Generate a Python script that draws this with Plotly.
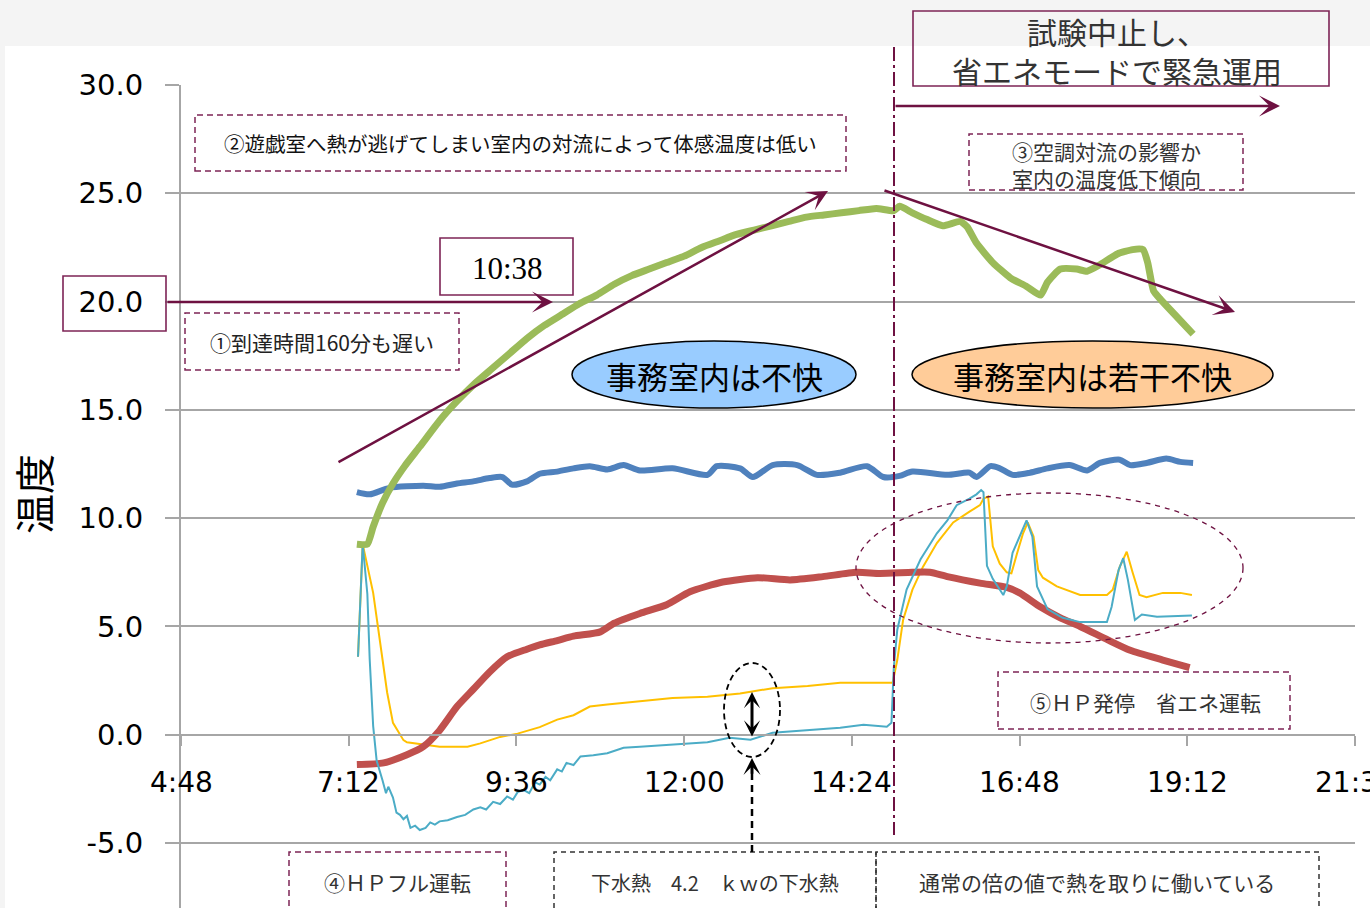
import pandas as pd
import plotly.graph_objects as go

# ---------------------------------------------------------------- data
time_tick_labels = ["4:48", "7:12", "9:36", "12:00", "14:24", "16:48", "19:12", "21:36"]
temp_tick_values = [-5, 0, 5, 10, 15, 20, 25, 30]

room_time = ["7:19", "7:28", "7:33", "7:41", "7:50", "8:00", "8:13", "8:30", "8:45", "9:00",
             "9:15", "9:30", "9:45", "10:00", "10:15", "10:30", "10:45", "11:00", "11:15", "11:30",
             "11:45", "12:00", "12:15", "12:30", "12:45", "13:00", "13:15", "13:30", "13:45", "14:00",
             "14:15", "14:30", "14:45", "15:00", "15:05", "15:16", "15:28", "15:42", "15:57", "16:03",
             "16:11", "16:25", "16:40", "16:54", "17:06", "17:12", "17:23", "17:37", "17:46", "17:57",
             "18:12", "18:25", "18:34", "18:38", "18:43", "18:49", "19:03", "19:17"]
room_temp = [8.8, 8.8, 9.6, 10.7, 11.6, 12.4, 13.3, 14.5, 15.4, 16.2,
             16.9, 17.6, 18.3, 18.9, 19.4, 19.9, 20.3, 20.8, 21.2, 21.5,
             21.8, 22.1, 22.5, 22.8, 23.1, 23.3, 23.5, 23.7, 23.9, 24.0,
             24.1, 24.2, 24.3, 24.2, 24.4, 24.1, 23.8, 23.5, 23.7, 23.45,
             22.7, 21.8, 21.1, 20.7, 20.3, 20.9, 21.5, 21.5, 21.4, 21.7,
             22.2, 22.4, 22.4, 21.8, 20.5, 20.1, 19.3, 18.5]

sewage_time = ["7:19", "7:30", "7:47", "8:16", "8:30", "8:45", "8:59", "9:13", "9:24", "9:32",
               "9:45", "9:56", "10:11", "10:25", "10:39", "10:54", "11:08", "11:22", "11:50", "12:20",
               "12:28", "12:48", "12:59", "13:16", "13:37", "13:54", "14:14", "14:37", "14:51", "15:05",
               "15:16", "15:46", "16:05", "16:11", "16:23", "16:31", "16:42", "16:57", "17:12", "17:31",
               "17:46", "17:57", "18:14", "18:23", "18:37", "18:54", "19:06", "19:17"]
sewage_temp = [11.2, 11.1, 11.4, 11.5, 11.45, 11.6, 11.7, 11.85, 11.9, 11.55,
               11.7, 12.05, 12.15, 12.3, 12.4, 12.25, 12.45, 12.2, 12.3, 12.0,
               12.4, 12.3, 11.9, 12.45, 12.45, 12.0, 12.1, 12.4, 11.9, 11.95,
               12.15, 12.0, 12.1, 11.9, 12.4, 12.3, 12.0, 12.1, 12.3, 12.45,
               12.2, 12.55, 12.7, 12.45, 12.55, 12.75, 12.6, 12.55]

outdoor_time = ["7:19", "7:42", "8:02", "8:16", "8:30", "8:45", "8:59", "9:13", "9:28", "9:45",
                "9:56", "10:11", "10:25", "10:48", "11:00", "11:22", "11:45", "12:05", "12:33", "13:03",
                "13:31", "13:59", "14:28", "14:48", "15:16", "15:31", "15:46", "16:14", "16:37", "16:48",
                "17:06", "17:23", "17:40", "18:03", "18:23", "18:51", "19:14"]
outdoor_temp = [-1.38, -1.3, -0.92, -0.55, 0.2, 1.3, 2.1, 2.9, 3.6, 3.95,
                4.15, 4.35, 4.55, 4.75, 5.15, 5.6, 6.0, 6.6, 7.05, 7.25,
                7.15, 7.3, 7.5, 7.45, 7.5, 7.5, 7.3, 7.0, 6.8, 6.55,
                5.9, 5.4, 5.0, 4.4, 3.9, 3.45, 3.1]

brine_in_time = ["7:20", "7:24", "7:33", "7:39", "7:45", "7:50", "7:59", "8:02", "8:16", "8:30",
                 "8:54", "9:05", "9:22", "9:37", "9:56", "10:11", "10:25", "10:39", "10:54", "11:22",
                 "11:50", "12:20", "12:48", "13:16", "13:46", "14:14", "14:59", "15:03", "15:08", "15:16",
                 "15:25", "15:37", "15:51", "16:05", "16:14", "16:17", "16:21", "16:25", "16:31", "16:37",
                 "16:41", "16:46", "16:51", "16:55", "17:00", "17:04", "17:08", "17:20", "17:40", "18:03",
                 "18:08", "18:14", "18:20", "18:25", "18:31", "18:37", "18:51", "19:06", "19:16"]
brine_in_temp = [3.6, 8.8, 6.55, 4.25, 1.95, 0.55, -0.25, -0.35, -0.45, -0.55,
                 -0.55, -0.4, -0.1, 0.05, 0.35, 0.7, 0.9, 1.3, 1.4, 1.55,
                 1.7, 1.75, 1.9, 2.15, 2.25, 2.4, 2.4, 3.45, 5.3, 6.7,
                 7.75, 8.85, 9.8, 10.3, 10.6, 10.9, 11.0, 8.7, 7.9, 7.5,
                 7.45, 8.4, 9.3, 9.8, 9.15, 7.6, 7.25, 6.85, 6.45, 6.45,
                 6.7, 7.75, 8.45, 7.5, 6.45, 6.35, 6.55, 6.55, 6.45]

brine_out_time = ["7:20", "7:24", "7:28", "7:30", "7:33", "7:36", "7:41", "7:44", "7:46", "7:50",
                  "7:53", "7:56", "7:59", "8:02", "8:05", "8:09", "8:13", "8:18", "8:22", "8:26",
                  "8:30", "8:37", "8:45", "8:52", "8:59", "9:05", "9:10", "9:16", "9:22", "9:28",
                  "9:33", "9:37", "9:42", "9:47", "9:52", "9:56", "10:01", "10:05", "10:11", "10:15",
                  "10:19", "10:25", "10:31", "10:42", "10:54", "11:08", "11:22", "11:36", "11:50", "12:05",
                  "12:20", "12:39", "12:57", "13:16", "13:31", "13:46", "14:14", "14:34", "14:54", "14:58",
                  "15:00", "15:03", "15:11", "15:23", "15:37", "15:46", "15:54", "16:05", "16:11", "16:15",
                  "16:17", "16:20", "16:25", "16:34", "16:37", "16:42", "16:50", "16:54", "16:59", "17:03",
                  "17:12", "17:25", "17:40", "18:03", "18:07", "18:13", "18:17", "18:21", "18:27", "18:33",
                  "18:46", "19:06", "19:16"]
brine_out_temp = [3.6, 8.8, 6.5, 3.5, 0.4, -1.2, -2.1, -2.7, -2.4, -2.9,
                  -3.6, -3.7, -3.9, -3.75, -4.3, -4.2, -4.4, -4.3, -4.05, -4.15,
                  -4.0, -3.95, -3.8, -3.7, -3.45, -3.35, -3.45, -3.1, -3.2, -2.85,
                  -3.0, -2.65, -2.55, -2.7, -2.2, -2.3, -1.95, -2.1, -1.6, -1.7,
                  -1.3, -1.4, -1.0, -0.95, -0.85, -0.6, -0.55, -0.5, -0.45, -0.4,
                  -0.35, -0.14, -0.23, 0.09, 0.15, 0.23, 0.32, 0.46, 0.37, 0.55,
                  3.1, 4.85, 6.7, 8.1, 9.3, 9.9, 10.6, 10.9, 11.1, 11.3,
                  11.2, 7.8, 7.2, 6.45, 6.85, 8.4, 9.45, 9.9, 9.15, 6.85,
                  5.8, 5.4, 5.2, 5.2, 5.9, 7.6, 8.15, 7.15, 5.3, 5.55,
                  5.45, 5.5, 5.5]


def stamp(hm):
    h, m = hm.split(":")
    return pd.Timestamp(f"2000-01-01 {int(h):02d}:{int(m):02d}:00")


# ---------------------------------------------------------------- page geometry
W, H = 1370, 908
ML, MR, MT, MB = 181, 15, 85, 0
Y_MIN, Y_MAX = -8, 30


def fx(px):
    return (px - ML) / (W - ML - MR)


def fy(py):
    return (H - MB - py) / (H - MT - MB)


JP = "Noto Sans CJK JP"
NUM = "DejaVu Sans"
GRID = "#A6A6A6"
MAROON = "#6E1141"
BOX = "#7D2456"

fig = go.Figure()

# (times, values, colour, width, smoothing)
series = [
    (brine_in_time, brine_in_temp, "#FFC000", 2, None),
    (outdoor_time, outdoor_temp, "#C0504D", 7, 0.6),
    (brine_out_time, brine_out_temp, "#4BACC6", 2, None),
    (sewage_time, sewage_temp, "#4F81BD", 6, 0.7),
    (room_time, room_temp, "#9BBB59", 7, 0.5),
]
for t, v, color, width, smooth in series:
    line = dict(color=color, width=width)
    if smooth is not None:
        line.update(shape="spline", smoothing=smooth)
    fig.add_trace(go.Scatter(
        x=[stamp(s) for s in t], y=v, mode="lines", line=line,
        showlegend=False, hoverinfo="skip",
    ))

tick_times = [stamp(s) for s in time_tick_labels]

# ---------------------------------------------------------------- shapes
shapes = []


def rect(x0, y0, x1, y1, color, dash="solid", width=1.5, fill="rgba(0,0,0,0)", layer="above"):
    shapes.append(dict(type="rect", xref="paper", yref="paper",
                       x0=fx(x0), x1=fx(x1), y0=fy(y1), y1=fy(y0),
                       line=dict(color=color, width=width, dash=dash),
                       fillcolor=fill, layer=layer))


def oval(x0, y0, x1, y1, color, dash="solid", width=1.5, fill="rgba(0,0,0,0)"):
    shapes.append(dict(type="circle", xref="paper", yref="paper",
                       x0=fx(x0), x1=fx(x1), y0=fy(y1), y1=fy(y0),
                       line=dict(color=color, width=width, dash=dash),
                       fillcolor=fill, layer="above"))


def seg(x0, y0, x1, y1, color, dash="solid", width=2):
    shapes.append(dict(type="line", xref="paper", yref="paper",
                       x0=fx(x0), x1=fx(x1), y0=fy(y0), y1=fy(y1),
                       line=dict(color=color, width=width, dash=dash), layer="above"))


# light textured band of the page header and left edge
rect(0, 0, W, 46, "rgba(0,0,0,0)", width=0, fill="#F4F4F4", layer="below")
rect(0, 0, 5, H, "rgba(0,0,0,0)", width=0, fill="#F4F4F4", layer="below")

DASH_BOX = "6px,4px"
rect(195, 115, 846, 171, BOX, DASH_BOX)            # (2)
rect(185, 313, 459, 370, BOX, DASH_BOX)            # (1)
rect(969, 134, 1243, 190, BOX, DASH_BOX)           # (3)
rect(998, 672, 1290, 729, BOX, DASH_BOX)           # (5)
rect(289, 852, 506, 940, BOX, DASH_BOX)            # (4)
rect(554, 852, 876, 940, "#333333", "5px,4px")
rect(876, 852, 1319, 940, "#333333", "5px,4px")
rect(63, 276, 166, 331, BOX, width=1.6)             # around 20.0
rect(440, 238, 573, 295, BOX, width=1.6, fill="white")
rect(913, 11, 1329, 86, BOX, width=1.6)

oval(572, 341, 856, 408, "#000000", width=1.5, fill="#99CCFF")
oval(912, 341, 1273, 408, "#000000", width=1.5, fill="#FFCC99")
oval(856, 493, 1243, 643, MAROON, "5px,5px", width=1.3)
oval(724, 663, 780, 757, "#000000", "6px,4px", width=1.8)

# test stop: dash-dot marker at 15:00
seg(894, 47, 894, 835, MAROON, "14px,4px,3px,4px", width=2)
# dashed pointer from the bottom note
seg(752, 852, 752, 770, "#000000", "7px,5px", width=2.5)

# ---------------------------------------------------------------- annotations
ann = []


def text(x, y, s, size, color="#222222", family=JP, **kw):
    ann.append(dict(xref="paper", yref="paper", x=fx(x), y=fy(y), text=s,
                    showarrow=False, xanchor="center", yanchor="middle",
                    font=dict(size=size, color=color, family=family), **kw))


def arrow(x0, y0, x1, y1, color, width=2.5, size=1.4, side="end"):
    ann.append(dict(xref="paper", yref="paper", x=fx(x1), y=fy(y1),
                    ax=x0 - x1, ay=y0 - y1, axref="pixel", ayref="pixel",
                    text="", showarrow=True, arrowhead=3, arrowsize=size,
                    arrowwidth=width, arrowcolor=color, arrowside=side, standoff=0))


for lab, t in zip(time_tick_labels, tick_times):
    ann.append(dict(xref="x", yref="y", x=t, y=-2.2, text=lab, showarrow=False,
                    xanchor="center", yanchor="middle",
                    font=dict(size=28, color="#000000", family=NUM)))

text(33, 494, "温度", 40, color="#000000", textangle=-90)
text(520, 143, "②遊戯室へ熱が逃げてしまい室内の対流によって体感温度は低い", 20.5, color="#111111")
text(322, 342, "①到達時間160分も遅い", 21)
text(507, 268, "10:38", 31, color="#000000", family="Liberation Serif")
text(1117, 51, "試験中止し、<br>省エネモードで緊急運用", 30, color="#333333")
text(1106, 164, "③空調対流の影響か<br>室内の温度低下傾向", 21, color="#333333")
text(714, 376, "事務室内は不快", 31, color="#000000")
text(1092, 376, "事務室内は若干不快", 31, color="#000000")
text(1145, 702, "⑤ＨＰ発停　省エネ運転", 21, color="#333333")
text(397, 882, "④ＨＰフル運転", 21, color="#333333")
text(715, 882, "下水熱　4.2　ｋｗの下水熱", 20, color="#333333")
text(1097, 882, "通常の倍の値で熱を取りに働いている", 21, color="#333333")

arrow(166, 302, 553, 302, MAROON)
arrow(337, 463, 828, 191, MAROON)
arrow(883, 190, 1235, 312, MAROON)
arrow(894, 106, 1280, 106, MAROON)
arrow(752, 738, 752, 692, "#000000", width=3, size=0.9, side="end+start")
arrow(752, 775, 752, 758, "#000000", width=3, size=0.95)

# ---------------------------------------------------------------- layout
fig.update_layout(
    width=W, height=H,
    margin=dict(l=ML, r=MR, t=MT, b=MB, pad=0),
    paper_bgcolor="white", plot_bgcolor="white",
    showlegend=False,
    shapes=shapes, annotations=ann,
    xaxis=dict(
        type="date",
        range=[stamp("4:48"), stamp("21:36")],
        tickvals=tick_times, showticklabels=False,
        ticks="outside", ticklen=10, tickwidth=2, tickcolor=GRID,
        showgrid=False, zeroline=False,
        showline=True, linecolor=GRID, linewidth=2,
        anchor="free", position=(0 - Y_MIN) / (Y_MAX - Y_MIN),
    ),
    yaxis=dict(
        range=[Y_MIN, Y_MAX],
        tickvals=temp_tick_values,
        ticktext=[f"{v:.1f}" for v in temp_tick_values],
        ticks="outside", ticklen=14, tickwidth=2, tickcolor=GRID,
        tickfont=dict(size=29, family=NUM, color="#000000"),
        ticklabelstandoff=16,
        showgrid=True, gridcolor=GRID, gridwidth=2,
        zeroline=False,
        showline=True, linecolor=GRID, linewidth=2,
    ),
)

fig.write_html("out.html")
